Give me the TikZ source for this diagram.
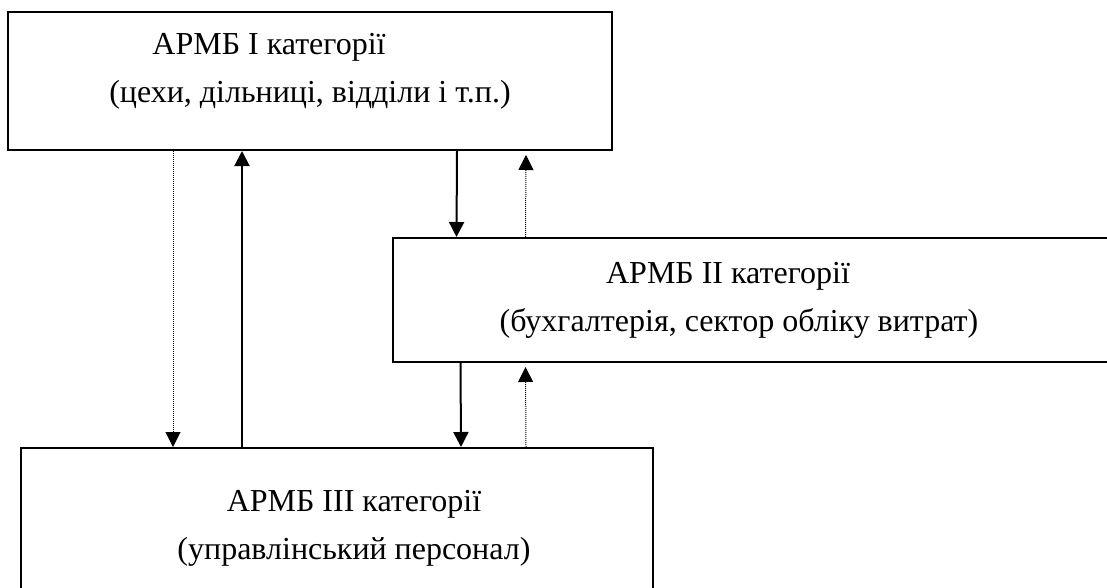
\documentclass[tikz,border=0pt]{standalone}
\usepackage{fontspec}
\setmainfont{Liberation Serif}
\usetikzlibrary{arrows.meta}

\begin{document}
\begin{tikzpicture}[x=1pt,y=-1pt,
    blok/.style={draw,line width=2pt,align=center,inner sep=0pt,
        font=\fontsize{32}{48}\selectfont},
    sutsil/.style={line width=2pt,-{Triangle[length=15pt,width=15pt]}},
    tochky/.style={line width=1pt,dash pattern=on 1pt off 1pt,
        -{Triangle[length=15pt,width=15pt]}}]
    \useasboundingbox (0,0) rectangle (1107,587);
    \clip (0,0) rectangle (1107,587);
    \node[blok,minimum width=604pt,minimum height=138pt] (arm1) at (310,81)
        {АРМБ І категорії\hspace*{82pt}\\(цехи, дільниці, відділи і т.п.)\rule[-26pt]{0pt}{0pt}};
    \node[blok,minimum width=719pt,minimum height=124pt] (arm2) at (752,300)
        {АРМБ ІІ категорії\hspace*{48pt}\\(бухгалтерія, сектор обліку витрат)\hspace*{26pt}};
    \node[blok,minimum width=632pt,minimum height=160pt] (arm3) at (337,528)
        {\hspace*{34pt}АРМБ ІІІ категорії\\\hspace*{34pt}(управлінський персонал)\rule[-6pt]{0pt}{0pt}};
	\draw[tochky] ([xshift=166pt]arm1.south west) -- ([xshift=153pt]arm3.north west);
	\draw[sutsil] ([xshift=222pt]arm3.north west) -- ([xshift=235pt]arm1.south west);
	\draw[sutsil] ([xshift=450pt]arm1.south west) -- ([xshift=65pt]arm2.north west);
	\draw[tochky] ([xshift=134pt]arm2.north west) -- ([xshift=519pt,yshift=-4pt]arm1.south west);
	\draw[sutsil] ([xshift=69pt]arm2.south west) -- ([xshift=441pt]arm3.north west);
	\draw[tochky] ([xshift=506pt]arm3.north west) -- ([xshift=134pt,yshift=-4pt]arm2.south west);
\end{tikzpicture}
\end{document}
